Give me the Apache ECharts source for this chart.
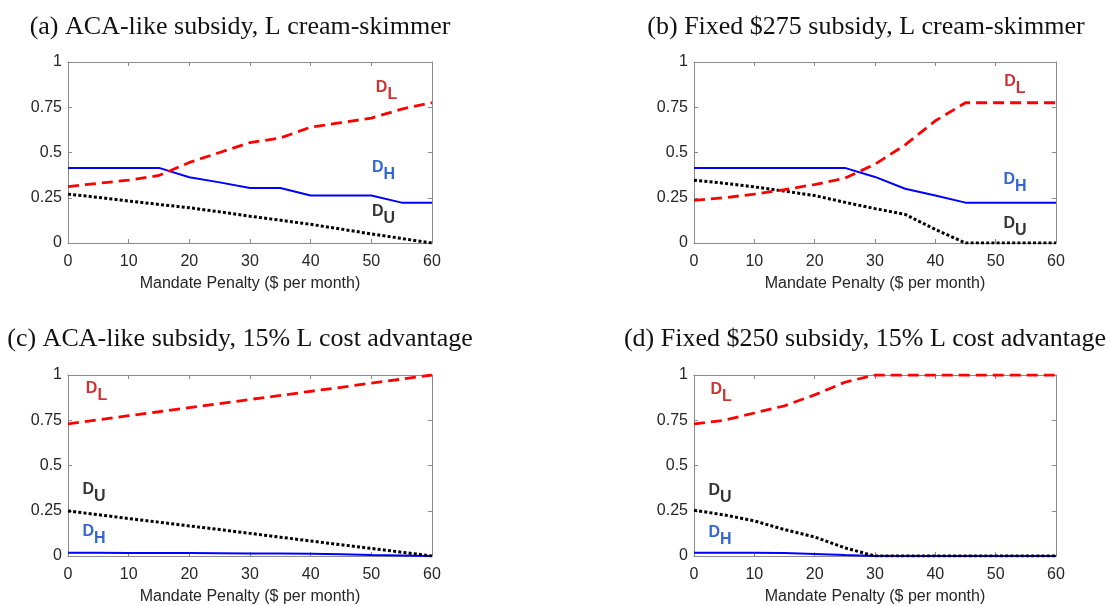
<!DOCTYPE html>
<html>
<head>
<meta charset="utf-8">
<script src="https://cdn.jsdelivr.net/npm/echarts@6/dist/echarts.min.js"></script>
<style>
  html, body { margin: 0; padding: 0; background: #fff; }
  #chart { width: 1109px; height: 606px; }
</style>
</head>
<body>
<div id="chart"></div>
<script>
// Mandate penalty grid ($ per month)
const penalty = [0, 5, 10, 15, 20, 25, 30, 35, 40, 45, 50, 55, 60];
const yTicks = [0, 0.25, 0.5, 0.75, 1];

// (a) ACA-like subsidy, L cream-skimmer
const aL = [0.312, 0.33, 0.347, 0.373, 0.445, 0.50, 0.555, 0.58, 0.64, 0.665, 0.69, 0.74, 0.775];
const aH = [0.415, 0.415, 0.415, 0.415, 0.363, 0.335, 0.304, 0.304, 0.262, 0.262, 0.262, 0.223, 0.223];
const aU = [0.27, 0.252, 0.232, 0.213, 0.195, 0.172, 0.148, 0.126, 0.103, 0.077, 0.05, 0.025, 0];

// (b) Fixed $275 subsidy, L cream-skimmer
const bL = [0.236, 0.25, 0.27, 0.295, 0.323, 0.358, 0.435, 0.542, 0.675, 0.775, 0.775, 0.775, 0.775];
const bH = [0.415, 0.415, 0.415, 0.415, 0.415, 0.415, 0.365, 0.30, 0.262, 0.223, 0.223, 0.223, 0.223];
const bU = [0.347, 0.33, 0.31, 0.287, 0.262, 0.225, 0.19, 0.158, 0.075, 0, 0, 0, 0];

// (c) ACA-like subsidy, 15% L cost advantage
const cL = [0.73, 0.752, 0.775, 0.797, 0.82, 0.842, 0.865, 0.887, 0.91, 0.932, 0.955, 0.977, 1.0];
const cH = [0.018, 0.018, 0.017, 0.017, 0.016, 0.015, 0.014, 0.014, 0.013, 0.01, 0.006, 0.003, 0];
const cU = [0.249, 0.228, 0.207, 0.187, 0.166, 0.146, 0.125, 0.104, 0.083, 0.062, 0.042, 0.021, 0];

// (d) Fixed $250 subsidy, 15% L cost advantage
const dL = [0.73, 0.75, 0.79, 0.83, 0.89, 0.96, 1.0, 1.0, 1.0, 1.0, 1.0, 1.0, 1.0];
const dH = [0.018, 0.018, 0.018, 0.017, 0.011, 0.005, 0, 0, 0, 0, 0, 0, 0];
const dU = [0.253, 0.227, 0.194, 0.146, 0.105, 0.045, 0, 0, 0, 0, 0, 0, 0];

const titles = [
  '(a) ACA-like subsidy, L cream-skimmer',
  '(b) Fixed $275 subsidy, L cream-skimmer',
  '(c) ACA-like subsidy, 15% L cost advantage',
  '(d) Fixed $250 subsidy, 15% L cost advantage'
];
const xName = 'Mandate Penalty ($ per month)';

// curve label anchors [penalty, share] per panel, in the order D_L, D_H, D_U
const labelSpots = [
  [[52.5, 0.84], [52.0, 0.40], [52.0, 0.155]],
  [[53.2, 0.875], [53.2, 0.333], [53.2, 0.09]],
  [[4.7, 0.905], [4.3, 0.115], [4.3, 0.347]],
  [[4.5, 0.90], [4.3, 0.11], [4.3, 0.342]]
];

const panels = [
  { L: aL, H: aH, U: aU },
  { L: bL, H: bH, U: bU },
  { L: cL, H: cH, U: cU },
  { L: dL, H: dH, U: dU }
];

const gridBoxes = [
  { left: 68, top: 62, width: 364, height: 181 },
  { left: 694, top: 62, width: 362, height: 181 },
  { left: 68, top: 375, width: 364, height: 181 },
  { left: 694, top: 375, width: 362, height: 181 }
];
const titleSpots = [[240, 27], [866, 27], [240, 339], [865, 339]];

const AXIS = '#8a8a8a';
const TEXT = '#262626';
const SANS = '"Liberation Sans", Arial, sans-serif';

const grid = [], xAxis = [], yAxis = [], series = [], graphic = [];

const frameLine = { show: true, onZero: false, lineStyle: { color: AXIS, width: 1 } };
const frameTick = { show: true, inside: true, length: 4, lineStyle: { color: AXIS } };

panels.forEach((p, i) => {
  grid.push(Object.assign({ containLabel: false }, gridBoxes[i]));
  const xb = xAxis.length;
  xAxis.push({
    type: 'value', gridIndex: i, min: 0, max: 60, interval: 10, position: 'bottom',
    name: xName, nameLocation: 'middle', nameGap: 33,
    nameTextStyle: { color: TEXT, fontSize: 16, fontFamily: SANS },
    axisLine: frameLine, axisTick: frameTick,
    axisLabel: { color: TEXT, fontSize: 16, fontFamily: SANS, margin: 11 },
    splitLine: { show: false }
  });
  xAxis.push({
    type: 'value', gridIndex: i, min: 0, max: 60, interval: 10, position: 'top',
    axisLine: frameLine, axisTick: frameTick,
    axisLabel: { show: false }, splitLine: { show: false }
  });
  const yb = yAxis.length;
  yAxis.push({
    type: 'value', gridIndex: i, min: 0, max: 1, interval: 0.25, position: 'left',
    axisLine: frameLine, axisTick: frameTick,
    axisLabel: { color: TEXT, fontSize: 16, fontFamily: SANS, margin: 6,
      formatter: v => (yTicks.includes(v) ? String(v) : '') },
    splitLine: { show: false }
  });
  yAxis.push({
    type: 'value', gridIndex: i, min: 0, max: 1, interval: 0.25, position: 'right',
    axisLine: frameLine, axisTick: frameTick,
    axisLabel: { show: false }, splitLine: { show: false }
  });

  const line = (vals, color, type, width, z) => ({
    type: 'line', xAxisIndex: xb, yAxisIndex: yb, z: z,
    data: penalty.map((x, k) => [x, vals[k]]),
    showSymbol: false, symbol: 'none', animation: false, silent: true,
    lineStyle: { color: color, width: width, type: type, cap: 'butt' }
  });
  series.push(line(p.H, '#0000ff', 'solid', 2, 3));
  series.push(line(p.U, '#000000', [3, 2.2], 3, 4));
  series.push(line(p.L, '#ff0000', [11, 6], 2.8, 5));

  // curve names with subscripts
  const names = [['L', '#c00000'], ['H', '#0040c8'], ['U', '#000000']];
  series.push({
    type: 'scatter', xAxisIndex: xb, yAxisIndex: yb, symbolSize: 0, silent: true, animation: false,
    data: labelSpots[i].map((pos, k) => ({
      value: pos,
      label: {
        show: true, position: 'inside',
        formatter: '{d|D}{s|' + names[k][0] + '}',
        rich: {
          d: { fontSize: 16, fontWeight: 'bold', fontFamily: SANS, color: names[k][1], lineHeight: 16, padding: [0, 0, 7, 0] },
          s: { fontSize: 16, fontWeight: 'bold', fontFamily: SANS, color: names[k][1], lineHeight: 16, padding: [7, 0, 0, 0] }
        }
      }
    }))
  });

  graphic.push({
    type: 'text', x: titleSpots[i][0], y: titleSpots[i][1],
    style: {
      text: titles[i], fill: '#111', fontSize: 26,
      fontFamily: '"Liberation Serif", "DejaVu Serif", serif',
      textAlign: 'center', textVerticalAlign: 'middle'
    }
  });
});

const chart = echarts.init(document.getElementById('chart'), null, { renderer: 'canvas' });
chart.setOption({ animation: false, backgroundColor: '#fff', grid, xAxis, yAxis, series, graphic });
</script>
</body>
</html>
